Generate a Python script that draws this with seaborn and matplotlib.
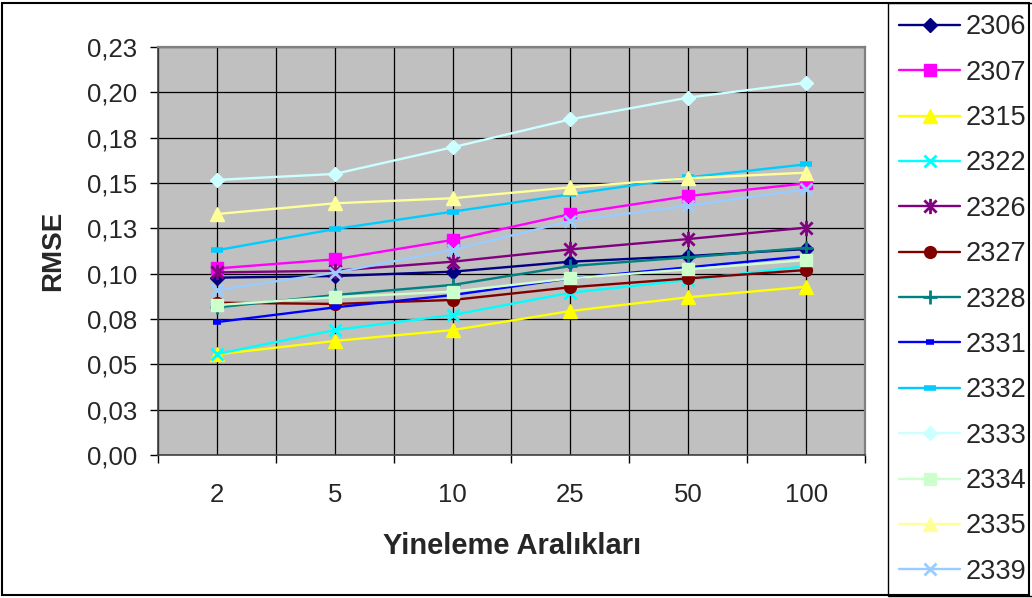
import numpy as np
import pandas as pd
import seaborn as sns
import matplotlib
matplotlib.use("Agg")
import matplotlib.pyplot as plt
from matplotlib.path import Path
from matplotlib.patches import Rectangle

sns.set_theme(style="white")
plt.rcParams['font.family'] = ['Liberation Sans', 'DejaVu Sans']

# Iteration intervals (x categories)
categories = ["2", "5", "10", "25", "50", "100"]

# RMSE per station
rmse_2306 = [0.0978, 0.0987, 0.1011, 0.1066, 0.1097, 0.1136]
rmse_2307 = [0.1029, 0.1079, 0.1186, 0.1329, 0.1428, 0.1498]
rmse_2315 = [0.0555, 0.0629, 0.0689, 0.0794, 0.0870, 0.0928]
rmse_2322 = [0.0557, 0.0689, 0.0772, 0.0895, 0.0965, 0.1042]
rmse_2326 = [0.1007, 0.1016, 0.1066, 0.1134, 0.1191, 0.1254]
rmse_2327 = [0.0840, 0.0833, 0.0855, 0.0925, 0.0974, 0.1020]
rmse_2328 = [0.0814, 0.0882, 0.0938, 0.1042, 0.1090, 0.1143]
rmse_2331 = [0.0733, 0.0814, 0.0882, 0.0974, 0.1035, 0.1097]
rmse_2332 = [0.1129, 0.1246, 0.1342, 0.1438, 0.1531, 0.1603]
rmse_2333 = [0.1517, 0.1550, 0.1697, 0.1851, 0.1971, 0.2053]
rmse_2334 = [0.0827, 0.0870, 0.0901, 0.0974, 0.1024, 0.1075]
rmse_2335 = [0.1329, 0.1388, 0.1416, 0.1476, 0.1526, 0.1557]
rmse_2339 = [0.0910, 0.1005, 0.1131, 0.1290, 0.1375, 0.1465]

series_names = ["2306", "2307", "2315", "2322", "2326", "2327", "2328",
                "2331", "2332", "2333", "2334", "2335", "2339"]
series_values = [rmse_2306, rmse_2307, rmse_2315, rmse_2322, rmse_2326,
                 rmse_2327, rmse_2328, rmse_2331, rmse_2332, rmse_2333,
                 rmse_2334, rmse_2335, rmse_2339]

y_ticks = [0.0, 0.025, 0.05, 0.075, 0.1, 0.125, 0.15, 0.175, 0.2, 0.225]
y_tick_labels = ["0,00", "0,03", "0,05", "0,08", "0,10", "0,13",
                 "0,15", "0,18", "0,20", "0,23"]

# Marker shapes
asterisk = Path([(-1, -1), (1, 1), (-1, 1), (1, -1), (0, -1.25), (0, 1.25)],
                [Path.MOVETO, Path.LINETO, Path.MOVETO, Path.LINETO,
                 Path.MOVETO, Path.LINETO])

styles = {
    "2306": dict(color="#000080", marker="D", ms=7.5, mew=1),
    "2307": dict(color="#FF00FF", marker="s", ms=8.5, mew=1),
    "2315": dict(color="#FFFF00", marker="^", ms=10, mew=1),
    "2322": dict(color="#00FFFF", marker="x", ms=9, mew=2),
    "2326": dict(color="#800080", marker=asterisk, ms=11, mew=2),
    "2327": dict(color="#800000", marker="o", ms=8.5, mew=1),
    "2328": dict(color="#008080", marker="+", ms=10, mew=2),
    "2331": dict(color="#0000FF", marker="_", ms=6, mew=4),
    "2332": dict(color="#00CCFF", marker="_", ms=8, mew=4),
    "2333": dict(color="#CCFFFF", marker="D", ms=7.5, mew=1),
    "2334": dict(color="#CCFFCC", marker="s", ms=8.5, mew=1),
    "2335": dict(color="#FFFF99", marker="^", ms=10, mew=1),
    "2339": dict(color="#99CCFF", marker="x", ms=9, mew=2),
}

W, H = 1032, 598
fig = plt.figure(figsize=(W / 100, H / 100), dpi=100)
fig.patch.set_facecolor("white")
ax = fig.add_axes([158 / W, 1 - 455 / H, (865 - 158) / W, (455 - 47) / H])
ax.set_facecolor("#C0C0C0")

positions = np.arange(len(categories))
for name, vals in zip(series_names, series_values):
    st = styles[name]
    df = pd.DataFrame({"pos": positions, "rmse": vals})
    sns.lineplot(data=df, x="pos", y="rmse", ax=ax, color=st["color"],
                 marker=st["marker"], markersize=st["ms"],
                 markeredgewidth=st["mew"], markeredgecolor=st["color"],
                 markerfacecolor=st["color"], linewidth=1.7, label=name,
                 zorder=3)

if ax.get_legend() is not None:
    ax.get_legend().remove()

# Axes limits and ticks
ax.set_xlim(-0.5, len(categories) - 0.5)
ax.set_ylim(0, 0.225)
ax.set_yticks(y_ticks)
ax.set_yticklabels(y_tick_labels)
boundaries = np.arange(-0.5, len(categories), 1.0)
ax.set_xticks(boundaries)
ax.set_xticklabels([""] * len(boundaries))
ax.set_xticks(positions, minor=True)
ax.set_xticklabels(categories, minor=True)

ax.tick_params(axis="y", which="major", direction="out", length=6,
               width=1, color="black", pad=9, labelsize=18.5, left=True)
ax.tick_params(axis="x", which="major", direction="out", length=6,
               width=1, color="black", bottom=True)
ax.tick_params(axis="x", which="minor", length=0, pad=20, labelsize=18.5,
               bottom=True)

ax.set_axisbelow(True)
ax.grid(True, which="major", axis="y", color="black", linewidth=0.9)
ax.grid(True, which="both", axis="x", color="black", linewidth=0.9)

for side in ("top", "right"):
    ax.spines[side].set_color("#808080")
    ax.spines[side].set_linewidth(1.6)
for side in ("left", "bottom"):
    ax.spines[side].set_color("#404040")
    ax.spines[side].set_linewidth(1.2)

ax.set_ylabel("RMSE", fontsize=20, fontweight="bold")
ax.yaxis.set_label_coords((53 - 158) / 707, 0.5)
ax.yaxis.label.set_verticalalignment("center")
ax.set_xlabel("Yineleme Aralıkları", fontsize=21, fontweight="bold")
ax.xaxis.set_label_coords((512 - 158) / 707, (455 - 546) / 408)
ax.xaxis.label.set_verticalalignment("center")

handles, labels = ax.get_legend_handles_labels()
leg = fig.legend(handles, labels, loc="upper left",
                 bbox_to_anchor=(888 / W, 1 - 3 / H),
                 bbox_transform=fig.transFigure, frameon=True,
                 fancybox=False, shadow=False, edgecolor="black",
                 facecolor="white", framealpha=1, fontsize=19.5,
                 handlelength=2.25, handletextpad=0.2, borderpad=0.42,
                 labelspacing=0.715, borderaxespad=0)
leg.get_frame().set_linewidth(1.0)

fig.add_artist(Rectangle((2 / W, 3 / H), (1029 - 2) / W, (595 - 3) / H,
                         transform=fig.transFigure, fill=False,
                         edgecolor="black", linewidth=1.5, zorder=10))

fig.savefig("out.png", dpi=100, facecolor="white")
